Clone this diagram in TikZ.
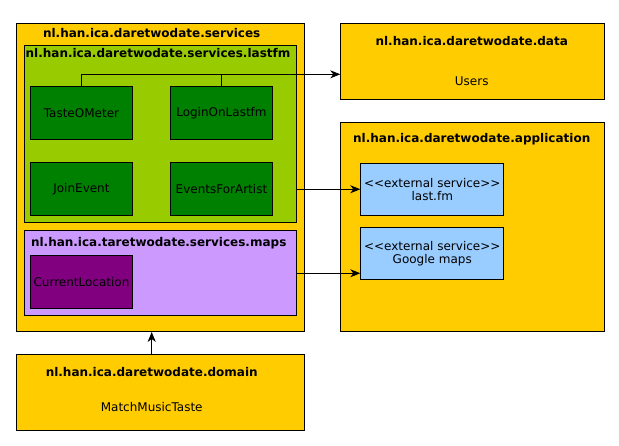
\documentclass[tikz,border=0pt]{standalone}
\usepackage{fontspec}
\setmainfont{DejaVu Sans}
\usetikzlibrary{arrows.meta}
\definecolor{pkgyellow}{HTML}{FFCC00}
\definecolor{lfmgreen}{HTML}{99CC00}
\definecolor{clsgreen}{HTML}{008000}
\definecolor{mapspurple}{HTML}{CC99FF}
\definecolor{clspurple}{HTML}{800080}
\definecolor{extblue}{HTML}{99CCFF}
\tikzset{
  box/.style={draw=black, line width=0.9pt, inner sep=0pt, anchor=north west},
  ttl/.style={inner sep=0pt, font=\fontsize{12}{14}\selectfont\bfseries},
  txt/.style={inner sep=0pt, font=\fontsize{12}{14}\selectfont, align=center},
  conn/.style={draw=black, line width=0.9pt},
  arr/.style={conn, -{Stealth[length=10pt,width=8pt,inset=3pt]}}
}
\begin{document}
\begin{tikzpicture}[x=1pt,y=-1pt]
\useasboundingbox (0,0) rectangle (619,445);
% services package
\node[box, fill=pkgyellow, minimum width=288.3pt, minimum height=307.7pt] (svc) at (15.7,23.3) {};
\node[ttl] (svct) at (151.7,33) {nl.han.ica.daretwodate.services};
% lastfm subpackage
\node[box, fill=lfmgreen, minimum width=271.4pt, minimum height=177pt] (lfm) at (24.3,45.3) {};
\node[ttl] (lfmt) at (158,52.7) {nl.han.ica.daretwodate.services.lastfm};
\node[box, fill=clsgreen, minimum width=101.4pt, minimum height=53pt] (tom) at (30.3,86.3) {};
\node[txt] at (tom.center) {TasteOMeter};
\node[box, fill=clsgreen, minimum width=101.4pt, minimum height=53pt] (login) at (170.3,86.3) {};
\node[txt] at (login.center) {LoginOnLastfm};
\node[box, fill=clsgreen, minimum width=101.4pt, minimum height=53pt] (join) at (30.3,162.3) {};
\node[txt] at (join.center) {JoinEvent};
\node[box, fill=clsgreen, minimum width=101.4pt, minimum height=53pt] (efa) at (170.3,162.3) {};
\node[txt] at (efa.center) {EventsForArtist};
% maps subpackage
\node[box, fill=mapspurple, minimum width=271.4pt, minimum height=85pt] (maps) at (24.3,230.3) {};
\node[ttl] (mapst) at (158.7,242.7) {nl.han.ica.taretwodate.services.maps};
\node[box, fill=clspurple, minimum width=101.4pt, minimum height=53pt] (cloc) at (30.3,255.3) {};
\node[txt] at (cloc.center) {CurrentLocation};
% domain package
\node[box, fill=pkgyellow, minimum width=288.3pt, minimum height=75.7pt] (dom) at (15.7,354.3) {};
\node[ttl] (domt) at (151.7,371.7) {nl.han.ica.daretwodate.domain};
\node[txt] (mmt) at (151.7,406.7) {MatchMusicTaste};
% data package
\node[box, fill=pkgyellow, minimum width=264pt, minimum height=75.7pt] (dat) at (340.3,23.3) {};
\node[ttl] (datt) at (471.7,40.7) {nl.han.ica.daretwodate.data};
\node[txt] (users) at (471.7,81.7) {Users};
% application package
\node[box, fill=pkgyellow, minimum width=264pt, minimum height=208.7pt] (app) at (340.3,122.3) {};
\node[ttl] (appt) at (471.7,139.3) {nl.han.ica.daretwodate.application};
\node[box, fill=extblue, minimum width=143pt, minimum height=52pt] (lfs) at (360.3,163.3) {};
\node[txt] at (lfs.center) {<{}<external service>{}>\\[-1.2pt]last.fm};
\node[box, fill=extblue, minimum width=143pt, minimum height=52pt] (gms) at (360.3,227.3) {};
\node[txt] at (gms.center) {<{}<external service>{}>\\[-1.2pt]Google maps};
% connectors
\coordinate (bus) at (0,74.3);
\coordinate (dx) at (151.7,0);
\draw[arr] (tom.north) |- (bus -| dat.west);
\draw[conn] (login.north) -- (login.north |- bus);
\draw[arr] (efa.east -| lfm.east) -- (efa.east -| lfs.west);
\draw[arr] (maps.east) -- (maps.east -| gms.west);
\draw[arr] (dx |- dom.north) -- (dx |- svc.south);
\end{tikzpicture}
\end{document}
